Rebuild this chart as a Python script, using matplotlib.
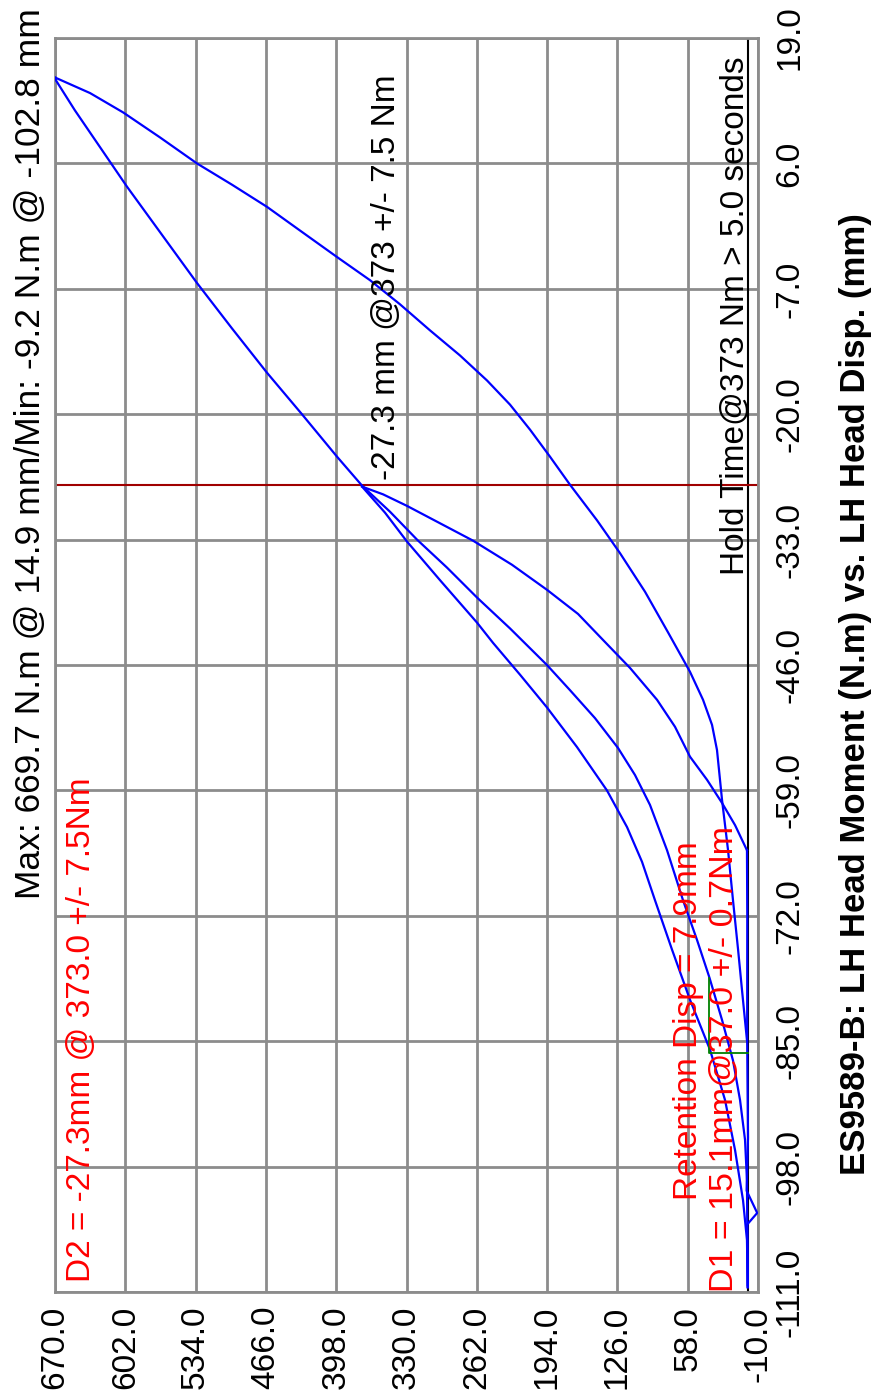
import matplotlib
matplotlib.use('Agg')
import matplotlib.pyplot as plt

plt.rcParams['font.family'] = ['Liberation Sans', 'DejaVu Sans']

# moment (N.m) / disp (mm) pairs
# first loading up to the 373 Nm hold
load1_m = [0.0, 0.7, 4.5, 12.2, 21.9, 36.4, 55.8, 73.2, 89.6, 102.2, 116.7, 136.1, 165.1,
           194.1, 220.2, 246.3, 261.8, 297.6, 329.5, 350.8, 373.0]
load1_d = [-110.3, -105.6, -101.5, -96.3, -91.1, -85.9, -80.7, -75.5, -70.4, -66.4, -62.8, -59.0, -54.5,
           -50.4, -47.0, -43.7, -41.6, -37.2, -33.2, -30.2, -27.5]

# unloading after first hold
unload1_m = [373.0, 352.7, 329.5, 297.6, 265.7, 228.0, 194.1, 164.1, 139.9, 113.8, 87.7,
             70.3, 55.8, 39.3, 24.8, 12.2, 0.7]
unload1_d = [-27.5, -28.3, -29.5, -31.3, -33.1, -35.6, -38.2, -40.7, -43.4, -46.3, -49.6,
             -52.4, -55.5, -57.9, -60.3, -62.6, -65.2]

# return at zero moment
return1_m = [0.7, 0.4, 0.5, -0.3, 1.0, -9.2, 0.5, 0.0]
return1_d = [-65.2, -72.0, -85.0, -95.0, -100.5, -102.8, -104.0, -110.5]

# second loading, hold, then on to the max
load2_m = [0.0, 0.7, 2.6, 7.4, 14.2, 24.8, 37.0, 49.0, 62.5, 78.0, 94.5, 109.0, 125.4, 147.7,
           171.9, 194.1, 229.9, 261.8, 290.8, 319.8, 346.0, 373.0, 397.2, 431.1, 464.9, 498.8,
           532.6, 566.5, 600.4, 626.5, 650.7, 669.0, 669.7]
load2_d = [-110.5, -99.4, -95.2, -91.1, -87.0, -82.8, -78.4, -74.5, -70.4, -65.2, -60.5, -57.4, -54.6, -51.5,
           -48.6, -46.0, -42.2, -39.0, -35.9, -33.0, -30.1, -27.4, -24.4, -20.0, -15.7, -11.1,
           -6.4, -1.4, 3.6, 7.7, 11.5, 14.6, 14.9]

# final unloading from the max, with the slow tail near zero moment
unload2_m = [669.7, 636.1, 604.2, 568.4, 532.6, 498.8, 464.9, 431.1, 397.2, 365.3, 336.3,
             307.3, 278.3, 252.1, 229.9, 210.5, 191.2, 171.9, 145.7, 123.5, 99.3, 77.1,
             55.8, 43.2, 34.5, 29.7, 24.8, 19.0, 14.2, 9.3, 5.5, 0.7]
unload2_d = [14.9, 13.3, 11.3, 8.7, 6.0, 3.8, 1.5, -1.1, -3.7, -6.1, -8.6,
             -11.3, -13.9, -16.5, -19.0, -21.6, -24.4, -27.3, -31.0, -34.4, -38.4, -42.6,
             -46.7, -49.6, -52.2, -54.8, -60.0, -65.2, -70.4, -75.5, -79.7, -84.9]

# retention markers (green)
ret_m = [37.0, 37.0, 0.0]
ret_d = [-78.4, -86.2, -86.2]

hold_disp = -27.3

m_ticks = [670 - 68 * i for i in range(11)]
d_ticks = [-111 + 13 * i for i in range(11)]

fig = plt.figure(figsize=(8.8, 13.95), dpi=100)
ax = fig.add_axes([0.0625, 0.0738, 0.7989, 0.8989])

ax.set_xlim(670, -10)
ax.set_ylim(-111, 19)
ax.set_xticks(m_ticks)
ax.set_yticks(d_ticks)
ax.set_xticklabels(['%.1f' % v for v in m_ticks], rotation=90, fontsize=24)
ax.set_yticklabels(['%.1f' % v for v in d_ticks], rotation=90, fontsize=24, va='center')
ax.yaxis.tick_right()
ax.tick_params(length=0)
ax.tick_params(axis='x', pad=10)
ax.tick_params(axis='y', pad=12)
ax.grid(True, color='#8c8c8c', lw=2)
for s in ax.spines.values():
    s.set_color('#8c8c8c')
    s.set_linewidth(2)

ax.axvline(0, color='black', lw=1.5, zorder=2)
ax.axhline(hold_disp, color='#a00000', lw=1.5, zorder=2)

for mm, dd in [(load1_m, load1_d), (unload1_m, unload1_d), (return1_m, return1_d),
               (load2_m, load2_d), (unload2_m, unload2_d)]:
    ax.plot(mm, dd, color='#0000ff', lw=1.6, zorder=3)
ax.plot(ret_m, ret_d, color='#008000', lw=1.3, zorder=4)

ax.text(643.9, -110.0, 'D2 = -27.3mm @ 373.0 +/- 7.5Nm', color='red', fontsize=24,
        rotation=90, ha='center', va='bottom')
ax.text(349.8, -26.8, '-27.3 mm @373 +/- 7.5 Nm', color='black', fontsize=24,
        rotation=90, ha='center', va='bottom')
ax.text(12.2, -36.7, 'Hold Time@373 Nm > 5.0 seconds', color='black', fontsize=24,
        rotation=90, ha='center', va='bottom')
ax.text(57.7, -101.5, 'Retention Disp = 7.9mm', color='red', fontsize=24,
        rotation=90, ha='center', va='bottom', zorder=5)
ax.text(22.9, -111.0, 'D1 = 15.1mm@37.0 +/- 0.7Nm', color='red', fontsize=24.5,
        rotation=90, ha='center', va='bottom', zorder=5)

fig.text(31 / 880, 1 - 8 / 1395, 'Max: 669.7 N.m @ 14.9 mm/Min: -9.2 N.m @ -102.8 mm',
         fontsize=25.5, rotation=90, ha='center', va='top')
fig.text(855 / 880, 1 - 1175 / 1395, 'ES9589-B: LH Head Moment (N.m) vs. LH Head Disp. (mm)',
         fontsize=25, fontweight='bold', rotation=90, ha='center', va='bottom')

fig.savefig('out.png', dpi=100)
